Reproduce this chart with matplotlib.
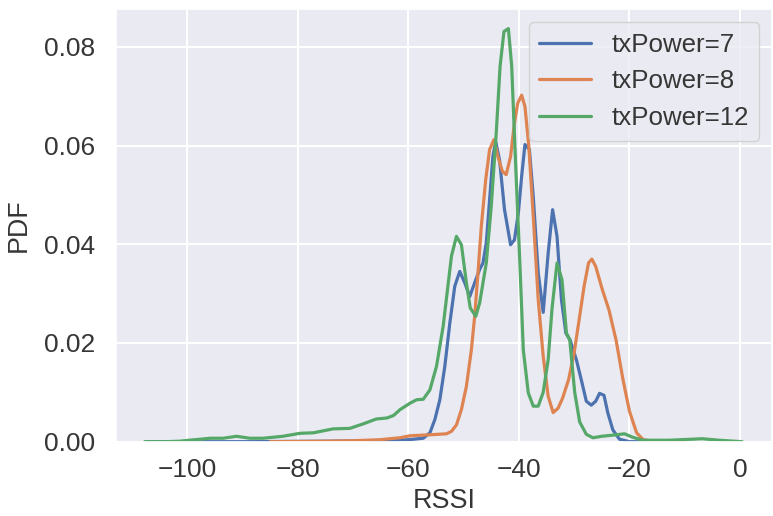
import matplotlib
matplotlib.use("Agg")
import matplotlib.pyplot as plt
import seaborn as sns

# --- data (RSSI vs. estimated PDF) ---
labels = ["txPower=7", "txPower=8", "txPower=12"]

x_tx7 = [-107.5, -90, -75, -65, -60, -57.3, -56.1, -55.2, -54.3, -53.4, -52.5, -51.6,
         -50.7, -49.8, -48.9, -48.0, -47.1, -46.5, -45.9, -45.3, -44.7, -44.2, -43.5,
         -42.6, -41.5, -40.8, -40.1, -39.5, -38.9, -38.1, -37.4, -36.5, -35.6, -34.7,
         -33.9, -33.1, -32.3, -31.5, -30.7, -29.6, -28.7, -27.8, -26.9, -26.1, -25.4,
         -24.6, -23.9, -23.0, -21.8, -20.0, -15.0]
y_tx7 = [0.0, 0.0, 0.0001, 0.0002, 0.0004, 0.0007, 0.0018, 0.0045, 0.0085, 0.0153, 0.0240,
         0.0315, 0.0345, 0.0322, 0.0294, 0.0322, 0.0349, 0.0362, 0.0403, 0.0490, 0.0578,
         0.0608, 0.0571, 0.0470, 0.0399, 0.0409, 0.0463, 0.0538, 0.0602, 0.0592, 0.0497,
         0.0342, 0.0262, 0.0382, 0.0470, 0.0416, 0.0288, 0.0220, 0.0205, 0.0166, 0.0125,
         0.0082, 0.0074, 0.0082, 0.0098, 0.0094, 0.0058, 0.0024, 0.0005, 0.0, 0.0]

x_tx8 = [-85, -75, -70, -65.2, -61.5, -59.7, -56.1, -53.1, -52.2, -51.3, -50.4, -49.5,
         -48.6, -48.0, -47.4, -46.8, -46.0, -45.3, -44.5, -43.8, -43.0, -42.3, -41.5,
         -40.8, -40.2, -39.5, -38.9, -38.2, -37.4, -36.5, -35.6, -34.7, -33.8, -32.9,
         -32.1, -31.0, -30.0, -29.1, -28.2, -27.4, -26.8, -26.1, -24.9, -23.7, -22.4,
         -21.2, -20.0, -18.7, -17.5, -15.7, -10.0]
y_tx8 = [0.0, 0.0001, 0.0002, 0.0004, 0.0008, 0.0012, 0.0014, 0.0016, 0.0021, 0.0034,
         0.0065, 0.0112, 0.0186, 0.0254, 0.0342, 0.0436, 0.0531, 0.0592, 0.0612, 0.0578,
         0.0548, 0.0541, 0.0578, 0.0646, 0.0686, 0.0702, 0.0679, 0.0598, 0.0457, 0.0288,
         0.0173, 0.0092, 0.0059, 0.0068, 0.0088, 0.0126, 0.0180, 0.0247, 0.0315, 0.0362,
         0.0370, 0.0355, 0.0308, 0.0267, 0.0205, 0.0128, 0.0062, 0.0018, 0.0004, 0.0001,
         0.0]

x_tx12 = [-107.7, -104.0, -101.4, -99.6, -97.7, -95.9, -93.5, -91.1, -88.7, -86.3, -82.7,
          -79.6, -77.2, -73.6, -70.6, -68.2, -65.8, -63.9, -62.7, -61.5, -59.7, -58.5,
          -57.3, -56.1, -54.9, -53.7, -52.2, -51.3, -50.4, -49.5, -48.8, -47.8, -47.1,
          -45.9, -45.0, -44.1, -43.4, -42.7, -41.9, -41.3, -40.7, -39.8, -39.2, -38.3,
          -37.4, -36.5, -35.6, -34.7, -34.0, -33.1, -32.2, -31.4, -30.8, -29.9, -29.0,
          -27.8, -26.6, -25.0, -22.4, -20.9, -19.4, -17.6, -12.8, -6.8, -3.8, 0.4]
y_tx12 = [0.0, 0.0, 0.0001, 0.0003, 0.0005, 0.0007, 0.0007, 0.0011, 0.0007, 0.0007, 0.0011,
          0.0017, 0.0018, 0.0026, 0.0027, 0.0036, 0.0046, 0.0048, 0.0053, 0.0065, 0.0078,
          0.0085, 0.0086, 0.0105, 0.0153, 0.0234, 0.0376, 0.0416, 0.0399, 0.0322, 0.0271,
          0.0254, 0.0281, 0.0362, 0.0477, 0.0625, 0.0761, 0.0831, 0.0837, 0.0761, 0.0592,
          0.0355, 0.0186, 0.0099, 0.0072, 0.0072, 0.0100, 0.0166, 0.0270, 0.0362, 0.0328,
          0.0220, 0.0207, 0.0100, 0.0040, 0.0015, 0.0008, 0.0011, 0.0014, 0.0016, 0.0009,
          0.0003, 0.0003, 0.0006, 0.0003, 0.0]

x_ticks = [-100, -80, -60, -40, -20, 0]
y_ticks = [0.00, 0.02, 0.04, 0.06, 0.08]

sns.set_theme(style="darkgrid")
plt.rcParams["font.family"] = ["Liberation Sans", "DejaVu Sans"]
plt.rcParams["grid.linewidth"] = 1.5
text_color = "#363636"

fig = plt.figure(figsize=(7.73, 5.16), dpi=100)
ax = fig.add_axes([116 / 773, 1 - 441.7 / 516, (772 - 116) / 773, (441.7 - 9.3) / 516])

palette = sns.color_palette("deep")
for xs, ys, lab, col in zip([x_tx7, x_tx8, x_tx12], [y_tx7, y_tx8, y_tx12], labels, palette):
    ax.plot(xs, ys, color=col, lw=2.3, label=lab)

ax.set_xlim(-112.9, 5.8)
ax.set_ylim(0, 0.0876)
ax.set_xticks(x_ticks)
ax.set_yticks(y_ticks)
ax.set_yticklabels([f"{v:.2f}" for v in y_ticks])
ax.tick_params(axis="both", labelsize=19, length=0, colors=text_color)
ax.tick_params(axis="y", pad=15)
ax.tick_params(axis="x", pad=12)
ax.set_xlabel("RSSI", fontsize=19.4, color=text_color, labelpad=4)
ax.set_ylabel("PDF", fontsize=19.4, color=text_color, labelpad=9)

leg = ax.legend(loc="upper right", fontsize=18.6)
for t in leg.get_texts():
    t.set_color(text_color)

fig.savefig("out.png", dpi=100)
